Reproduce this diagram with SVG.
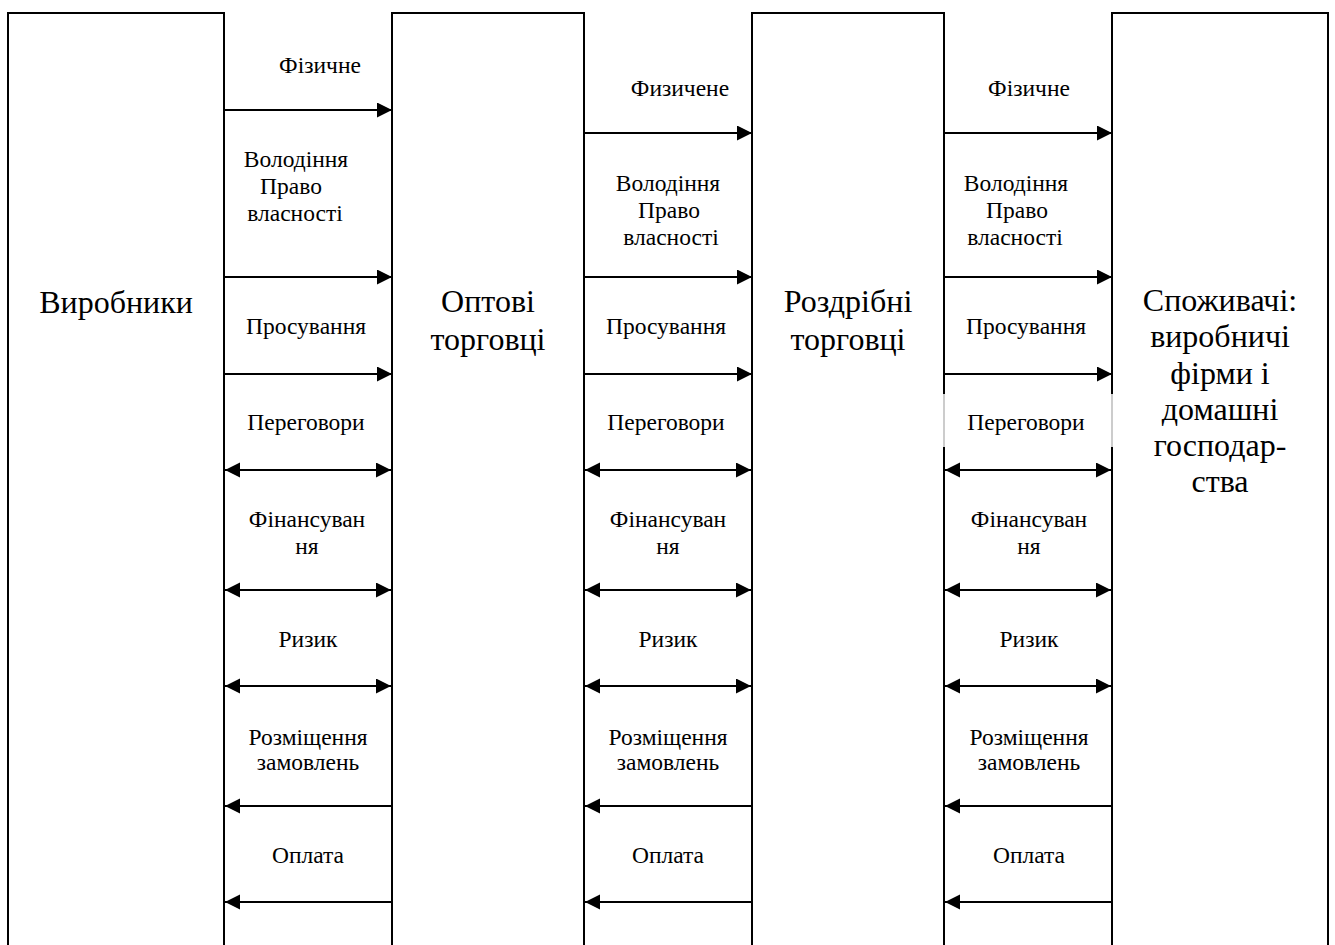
<svg xmlns="http://www.w3.org/2000/svg" width="1335" height="945" viewBox="0 0 1335 945">
  <style>
    .box { fill: #fff; stroke: #000; stroke-width: 2; }
    .big { font-family: "Liberation Serif", "Times New Roman", serif; font-size: 32px; fill: #000; text-anchor: middle; }
    .lbl { font-family: "Liberation Serif", "Times New Roman", serif; font-size: 23.5px; fill: #000; text-anchor: middle; }
    .flow { stroke: #000; stroke-width: 2.2; fill: none; }
    .fwd { marker-end: url(#head); }
    .back { marker-start: url(#head); }
    .both { marker-start: url(#head); marker-end: url(#head); }
  </style>
  <defs>
    <marker id="head" markerUnits="userSpaceOnUse" markerWidth="17" markerHeight="16" refX="15" refY="7.5" orient="auto-start-reverse">
      <path d="M0,0 L15,7.5 L0,15 Z" fill="#000"/>
    </marker>
  </defs>

  <rect width="1335" height="945" fill="#fff"/>

  <!-- participants: tall columns running off the bottom edge -->
  <g id="producers">
    <rect class="box" x="8" y="13" width="216" height="950"/>
    <text class="big" x="116" y="313">Виробники</text>
  </g>
  <g id="wholesalers">
    <rect class="box" x="392" y="13" width="192" height="950"/>
    <text class="big" x="488" y="312">Оптові</text>
    <text class="big" x="488" y="350">торговці</text>
  </g>
  <g id="retailers">
    <rect class="box" x="752" y="13" width="192" height="950"/>
    <text class="big" x="848" y="312">Роздрібні</text>
    <text class="big" x="848" y="350">торговці</text>
  </g>
  <g id="consumers">
    <rect class="box" x="1112" y="13" width="216" height="950"/>
    <text class="big" x="1220" y="311">Споживачі:</text>
    <text class="big" x="1220" y="347">виробничі</text>
    <text class="big" x="1220" y="384">фірми і</text>
    <text class="big" x="1220" y="420">домашні</text>
    <text class="big" x="1220" y="456">господар-</text>
    <text class="big" x="1220" y="492">ства</text>
  </g>

  <!-- white label panel over the retailer/consumer gap -->
  <g id="negotiation-panel">
    <rect x="941" y="394" width="174" height="53" fill="#fff"/>
    <line x1="944" y1="394" x2="944" y2="447" stroke="#999" stroke-width="1"/>
    <line x1="1112" y1="394" x2="1112" y2="447" stroke="#999" stroke-width="1"/>
  </g>

  <!-- flows between neighbouring columns -->
  <g id="connectors">
    <!-- producers <-> wholesalers -->
    <line class="flow fwd" x1="225" y1="110" x2="392" y2="110"/>
    <line class="flow fwd" x1="225" y1="277" x2="392" y2="277"/>
    <line class="flow fwd" x1="225" y1="374" x2="392" y2="374"/>
    <line class="flow both" x1="225" y1="470" x2="391" y2="470"/>
    <line class="flow both" x1="225" y1="590" x2="391" y2="590"/>
    <line class="flow both" x1="225" y1="686" x2="391" y2="686"/>
    <line class="flow back" x1="225" y1="806" x2="391" y2="806"/>
    <line class="flow back" x1="225" y1="902" x2="391" y2="902"/>

    <!-- wholesalers <-> retailers -->
    <line class="flow fwd" x1="585" y1="133" x2="752" y2="133"/>
    <line class="flow fwd" x1="585" y1="277" x2="752" y2="277"/>
    <line class="flow fwd" x1="585" y1="374" x2="752" y2="374"/>
    <line class="flow both" x1="585" y1="470" x2="751" y2="470"/>
    <line class="flow both" x1="585" y1="590" x2="751" y2="590"/>
    <line class="flow both" x1="585" y1="686" x2="751" y2="686"/>
    <line class="flow back" x1="585" y1="806" x2="751" y2="806"/>
    <line class="flow back" x1="585" y1="902" x2="751" y2="902"/>

    <!-- retailers <-> consumers -->
    <line class="flow fwd" x1="945" y1="133" x2="1112" y2="133"/>
    <line class="flow fwd" x1="945" y1="277" x2="1112" y2="277"/>
    <line class="flow fwd" x1="945" y1="374" x2="1112" y2="374"/>
    <line class="flow both" x1="945" y1="470" x2="1111" y2="470"/>
    <line class="flow both" x1="945" y1="590" x2="1111" y2="590"/>
    <line class="flow both" x1="945" y1="686" x2="1111" y2="686"/>
    <line class="flow back" x1="945" y1="806" x2="1111" y2="806"/>
    <line class="flow back" x1="945" y1="902" x2="1111" y2="902"/>

    <!-- flow labels, gap 1 -->
    <text class="lbl" x="320" y="73">Фізичне</text>
    <text class="lbl" x="296" y="167">Володіння</text>
    <text class="lbl" x="291" y="194">Право</text>
    <text class="lbl" x="295" y="221">власності</text>
    <text class="lbl" x="306" y="334">Просування</text>
    <text class="lbl" x="306" y="430">Переговори</text>
    <text class="lbl" x="307" y="527">Фінансуван</text>
    <text class="lbl" x="307" y="554">ня</text>
    <text class="lbl" x="308" y="647">Ризик</text>
    <text class="lbl" x="308" y="745">Розміщення</text>
    <text class="lbl" x="308" y="770">замовлень</text>
    <text class="lbl" x="308" y="863">Оплата</text>

    <!-- flow labels, gap 2 -->
    <text class="lbl" x="680" y="96">Физичене</text>
    <text class="lbl" x="668" y="191">Володіння</text>
    <text class="lbl" x="669" y="218">Право</text>
    <text class="lbl" x="671" y="245">власності</text>
    <text class="lbl" x="666" y="334">Просування</text>
    <text class="lbl" x="666" y="430">Переговори</text>
    <text class="lbl" x="668" y="527">Фінансуван</text>
    <text class="lbl" x="668" y="554">ня</text>
    <text class="lbl" x="668" y="647">Ризик</text>
    <text class="lbl" x="668" y="745">Розміщення</text>
    <text class="lbl" x="668" y="770">замовлень</text>
    <text class="lbl" x="668" y="863">Оплата</text>

    <!-- flow labels, gap 3 -->
    <text class="lbl" x="1029" y="96">Фізичне</text>
    <text class="lbl" x="1016" y="191">Володіння</text>
    <text class="lbl" x="1017" y="218">Право</text>
    <text class="lbl" x="1015" y="245">власності</text>
    <text class="lbl" x="1026" y="334">Просування</text>
    <text class="lbl" x="1026" y="430">Переговори</text>
    <text class="lbl" x="1029" y="527">Фінансуван</text>
    <text class="lbl" x="1029" y="554">ня</text>
    <text class="lbl" x="1029" y="647">Ризик</text>
    <text class="lbl" x="1029" y="745">Розміщення</text>
    <text class="lbl" x="1029" y="770">замовлень</text>
    <text class="lbl" x="1029" y="863">Оплата</text>
  </g>
</svg>
